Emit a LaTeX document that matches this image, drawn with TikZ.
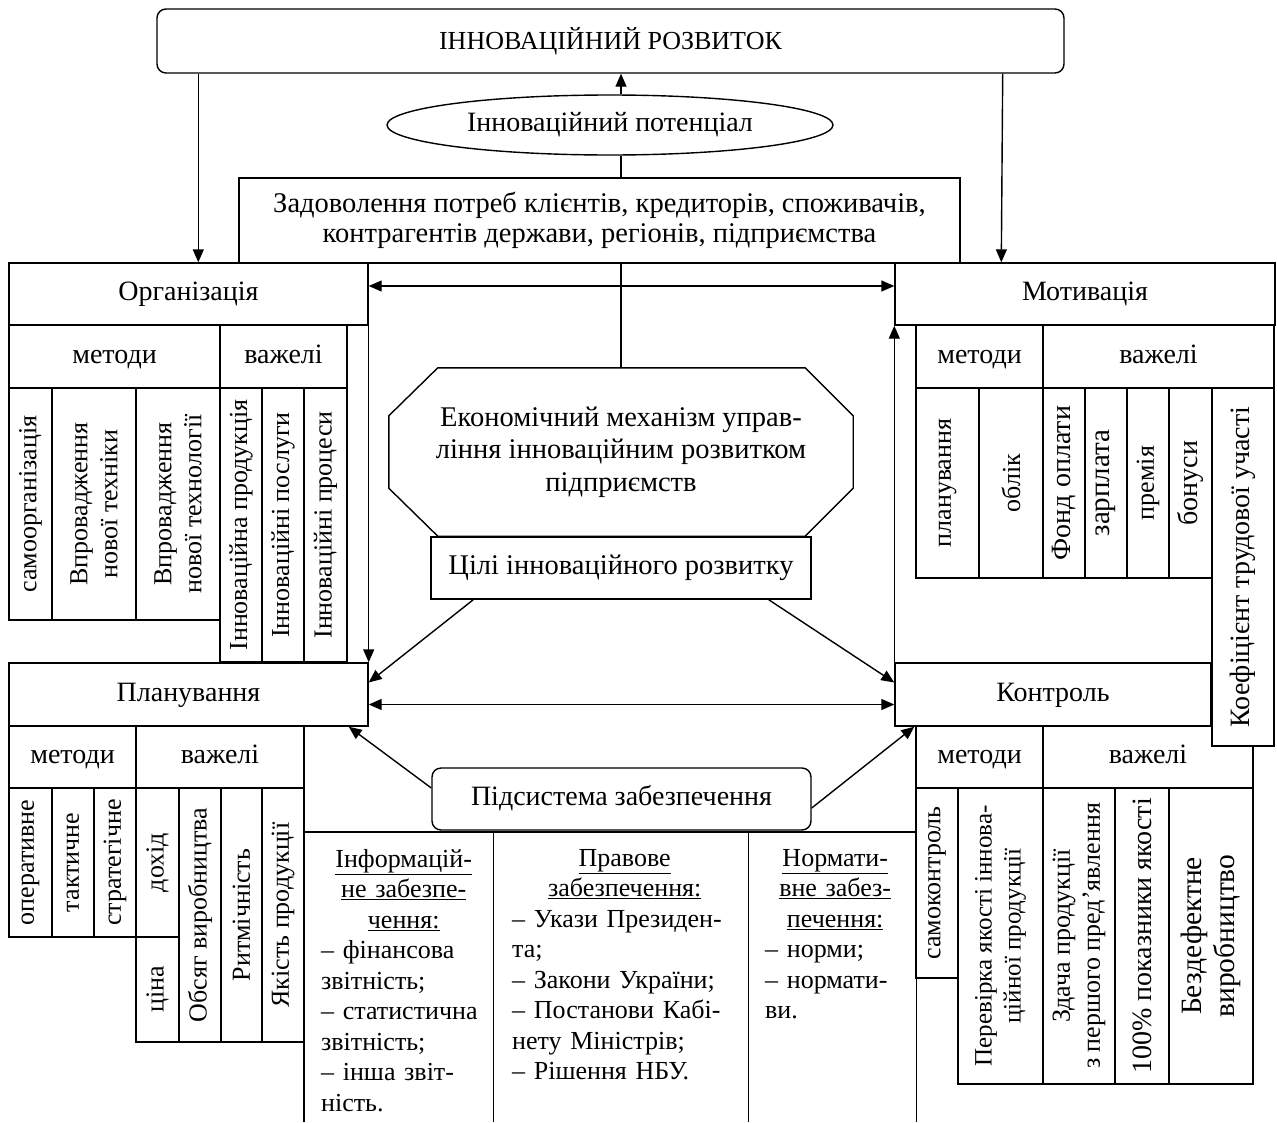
\documentclass[tikz,border=0pt]{standalone}
\usepackage{fontspec}
\setmainfont{Liberation Serif}
\usetikzlibrary{positioning,arrows.meta,shapes.geometric}
\setlength{\parindent}{0pt}
\tikzset{
  >={Triangle[length=13pt,width=11pt]},
  ln/.style={line width=1.4pt},
  box/.style={draw, line width=1.4pt, fill=white, align=center, inner sep=2pt},
  big/.style={font=\fontsize{28}{31}\selectfont},
  rbox/.style={box, rounded corners=9pt},
  hd/.style={box, big, text height=19pt, text depth=6pt},
  cell/.style={box, inner sep=1pt},
  vcell/.style={cell, rotate=90},
  arr/.style={->, ln},
  darr/.style={<->, ln},
  lst/.style={anchor=north west, inner sep=0pt, align=left, font=\fontsize{26}{30.5}\selectfont},
}

\begin{document}
\begin{tikzpicture}[x=1pt, y=-1pt, font=\fontsize{26}{30}\selectfont]
  \useasboundingbox (0,0) rectangle (1277,1122);
  % top part
  \node[rbox, minimum width=907, minimum height=64] (top) at (610.5,41) {ІННОВАЦІЙНИЙ РОЗВИТОК};
  \node[box, big, ellipse, minimum width=446, minimum height=60] (pot) at (610,125) {Інноваційний потенціал};
  \node[box, minimum width=721, minimum height=85, font=\fontsize{28.5}{30}\selectfont] (need) at (599.5,220.5) {Задоволення потреб клієнтів, кредиторів, споживачів,\\контрагентів держави, регіонів, підприємства};
  \node[minimum width=464, minimum height=168, align=center, font=\fontsize{28.5}{32.5}\selectfont] (mech) at (621,452) {Економічний механізм управ-\\ління інноваційним розвитком\\підприємств};
  \draw[ln] ([xshift=49pt]mech.north west) -- ([xshift=-48pt]mech.north east) -- ([yshift=-48pt]mech.north east) -- ([yshift=48pt]mech.south east) -- ([xshift=-48pt]mech.south east) -- ([xshift=49pt]mech.south west) -- ([yshift=48pt]mech.south west) -- ([yshift=-48pt]mech.north west) -- cycle;
  \node[hd, minimum width=380, minimum height=62, font=\fontsize{28.5}{31}\selectfont] (goals) at (621,568) {Цілі інноваційного розвитку};
  \node[hd, rounded corners=9pt, minimum width=379, minimum height=62] (supp) at (621.5,799) {Підсистема забезпечення};

  % Організація
  \node[hd, minimum width=359, minimum height=62] (org) at (188.5,294) {Організація};
  \node[hd, minimum width=211, minimum height=63] (orgm) at (114.5,356.5) {методи};
  \node[hd, minimum width=127, minimum height=63] (orgv) at (283.5,356.5) {важелі};
  \node[vcell, minimum width=232, minimum height=43] (o1) at (30.5,504) {самоорганізація};
  \node[vcell, minimum width=232, minimum height=84] (o2) at (94,504) {Впровадження\\нової техніки};
  \node[vcell, minimum width=232, minimum height=84] (o3) at (178,504) {Впровадження\\нової технології};
  \node[vcell, minimum width=274, minimum height=42] (o4) at (241,525) {Інноваційна продукція};
  \node[vcell, minimum width=274, minimum height=42] (o5) at (283,525) {Інноваційні послуги};
  \node[vcell, minimum width=274, minimum height=43] (o6) at (325.5,525) {Інноваційні процеси};

  % Мотивація
  \node[hd, minimum width=380, minimum height=62] (mot) at (1085,294) {Мотивація};
  \node[hd, minimum width=127, minimum height=63] (motm) at (979.5,356.5) {методи};
  \node[hd, minimum width=231, minimum height=63] (motv) at (1158.5,356.5) {важелі};
  \node[vcell, minimum width=190, minimum height=63] (m1) at (947.5,483) {планування};
  \node[vcell, minimum width=190, minimum height=64] (m2) at (1011,483) {облік};
  \node[vcell, big, minimum width=190, minimum height=42] (m3) at (1064,483) {Фонд оплати};
  \node[vcell, minimum width=190, minimum height=42, font=\fontsize{29}{31}\selectfont] (m4) at (1106,483) {зарплата};
  \node[vcell, minimum width=190, minimum height=42] (m5) at (1148,483) {премія};
  \node[vcell, big, minimum width=190, minimum height=43] (m6) at (1190.5,483) {бонуси};

  % Планування
  \node[hd, minimum width=359, minimum height=63] (plan) at (188.5,694.5) {Планування};
  \node[hd, minimum width=127, minimum height=62] (planm) at (72.5,757) {методи};
  \node[hd, minimum width=168, minimum height=62] (planv) at (220,757) {важелі};
  \node[vcell, minimum width=149, minimum height=43] (p1) at (30.5,862.5) {оперативне};
  \node[vcell, minimum width=149, minimum height=42] (p2) at (73,862.5) {тактичне};
  \node[vcell, minimum width=149, minimum height=42] (p3) at (115,862.5) {стратегічне};
  \node[vcell, minimum width=149, minimum height=43] (p4) at (157.5,862.5) {дохід};
  \node[vcell, minimum width=105, minimum height=43] (p5) at (157.5,989.5) {ціна};
  \node[vcell, minimum width=254, minimum height=42] (p6) at (200,915) {Обсяг виробництва};
  \node[vcell, minimum width=254, minimum height=41] (p7) at (241.5,915) {Ритмічність};
  \node[vcell, minimum width=254, minimum height=42] (p8) at (283,915) {Якість продукції};

  % Контроль
  \node[hd, minimum width=316, minimum height=63] (ctrl) at (1053,694.5) {Контроль};
  \node[hd, minimum width=127, minimum height=62] (ctrlm) at (979.5,757) {методи};
  \node[hd, minimum width=210, minimum height=62] (ctrlv) at (1148,757) {важелі};
  \node[vcell, minimum width=190, minimum height=42] (c1) at (937,883) {самоконтроль};
  \node[vcell, minimum width=296, minimum height=85, font=\fontsize{25}{29}\selectfont] (c2) at (1000.5,936) {Перевірка якості іннова-\\ційної продукції};
  \node[vcell, minimum width=296, minimum height=72] (c3) at (1079,936) {Здача продукції\\з першого пред’явлення};
  \node[vcell, big, minimum width=296, minimum height=54] (c4) at (1142,936) {100\% показники якості};
  \node[vcell, minimum width=296, minimum height=84, font=\fontsize{29.5}{33}\selectfont] (c5) at (1211,936) {Бездефектне\\виробництво};
  \node[vcell, big, minimum width=358, minimum height=62] (kf) at (1243,567) {Коефіцієнт трудової участі};

  % забезпечення
  \node[minimum width=189, minimum height=290] (info) at (398.5,977) {};
  \node[minimum width=255, minimum height=290] (prav) at (620.5,977) {};
  \node[minimum width=168, minimum height=290] (norm) at (832,977) {};
  \draw[ln] (info.south west) |- (norm.north east) -- (norm.south east);
  \draw[ln] (info.north east) -- (info.south east);
  \draw[ln] (prav.north east) -- (prav.south east);
  \node[lst, text width=165] (infot) at (321,849) {{\centering\underline{Інформацій-}\\\underline{не забезпе-}\\\underline{чення:}\par}– фінансова\\звітність;\\– статистична\\звітність;\\– інша звіт-\\ність.};
  \node[lst, text width=225] (pravt) at (512,849) {{\centering\underline{Правове}\\\underline{забезпечення:}\par}– Укази Президен-\\та;\\– Закони України;\\– Постанови Кабі-\\нету Міністрів;\\– Рішення НБУ.};
  \node[lst, text width=140] (normt) at (765,849) {{\centering\underline{Нормати-}\\\underline{вне забез-}\\\underline{печення:}\par}– норми;\\– нормати-\\ви.};

  % connectors
  \draw[arr] ([xshift=42pt]top.south west) -- ([xshift=190pt]org.north west);
  \draw[arr] ([xshift=-62pt]top.south east) -- ([xshift=107pt]mot.north west);
  \draw[arr] (mech.north |- pot.north) -- (mech.north |- top.south);
  \draw[ln] (mech.north |- need.north) -- (mech.north |- pot.south);
  \draw[ln] (mech.north |- need.south) -- (mech.north);
  \draw[darr] ([yshift=8pt]org.east) -- ([yshift=8pt]mot.west);
  \draw[arr] (org.south east) -- (plan.north east);
  \draw[arr] (ctrl.north west) -- (mot.south west);
  \draw[darr] ([yshift=-10pt]plan.east) -- ([yshift=-10pt]ctrl.west);
  \draw[arr] ([xshift=43pt]goals.south west) -- ([yshift=12pt]plan.east);
  \draw[arr] ([xshift=-43pt]goals.south east) -- ([yshift=12pt]ctrl.west);
  \draw[arr] ([yshift=11pt]supp.west) -- ([xshift=-20pt]plan.south east);
  \draw[arr] ([yshift=-9pt]supp.east) -- ([xshift=20pt]ctrl.south west);
\end{tikzpicture}
\end{document}
